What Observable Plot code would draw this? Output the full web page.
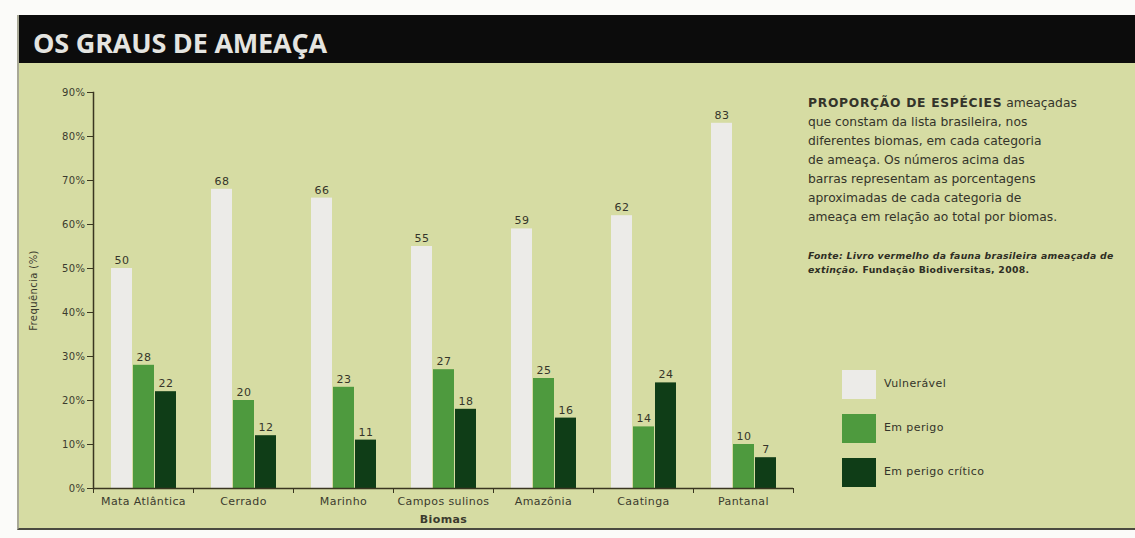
<!DOCTYPE html>
<html>
<head>
<meta charset="utf-8">
<script src="https://cdn.jsdelivr.net/npm/d3@7"></script>
<script src="https://cdn.jsdelivr.net/npm/@observablehq/plot@0.6"></script>
<style>
  html, body { margin: 0; padding: 0; background: #fbfbf9; width: 1135px; height: 538px; overflow: hidden; font-family: "DejaVu Sans", sans-serif; }
  #panel { position: absolute; left: 17px; top: 15px; width: 1118px; height: 515px; background: #d6dca3; border-left: 2px solid #a8a896; border-bottom: 2px solid #4a4a40; box-sizing: border-box; }
  #titlebar { position: absolute; left: 0; top: 0; width: 100%; height: 48px; background: #0c0c0c; }
  #title { position: absolute; left: 14px; top: 14px; line-height: 27px; color: #e4e4e0; font-family: "Open Sans", sans-serif; font-weight: 700; font-size: 27px; letter-spacing: -0.2px; white-space: nowrap; }
  #chart { position: absolute; left: 0px; top: 48px; }
  #desc { position: absolute; left: 789px; top: 79px; width: 340px; font-size: 12.3px; line-height: 19px; color: #34342a; white-space: nowrap; }
  #desc b { font-weight: 700; letter-spacing: 0.7px; }
  #source { position: absolute; left: 789px; top: 234px; font-size: 9.3px; letter-spacing: 0.3px; line-height: 14px; color: #2e2e24; font-weight: 700; white-space: nowrap; }
  #legend { position: absolute; left: 823px; top: 355px; }
  .item { position: absolute; left: 0; width: 260px; height: 30px; }
  .sw { position: absolute; left: 0; top: 0; width: 34px; height: 29px; }
  .lab { position: absolute; left: 42px; top: 7px; font-size: 11px; letter-spacing: 0.4px; color: #34342a; white-space: nowrap; }
</style>
</head>
<body>
<div id="panel">
  <div id="titlebar"><div id="title">OS GRAUS DE AMEAÇA</div></div>
  <div id="chart"></div>
  <div id="desc"><b>PROPORÇÃO DE ESPÉCIES</b> ameaçadas<br>que constam da lista brasileira, nos<br>diferentes biomas, em cada categoria<br>de ameaça. Os números acima das<br>barras representam as porcentagens<br>aproximadas de cada categoria de<br>ameaça em relação ao total por biomas.</div>
  <div id="source"><i>Fonte: Livro vermelho da fauna brasileira ameaçada de</i><br><i>extinção.</i> Fundação Biodiversitas, 2008.</div>
  <div id="legend"></div>
</div>
<script>
const biomes = ["Mata Atlântica", "Cerrado", "Marinho", "Campos sulinos", "Amazônia", "Caatinga", "Pantanal"];
const categories = ["Vulnerável", "Em perigo", "Em perigo crítico"];
const vulneravel = [50, 68, 66, 55, 59, 62, 83];
const emPerigo = [28, 20, 23, 27, 25, 14, 10];
const emPerigoCritico = [22, 12, 11, 18, 16, 24, 7];
const yTicks = [0, 10, 20, 30, 40, 50, 60, 70, 80, 90];
const colors = ["#ecebe8", "#4e9a3e", "#0f3d17"];

const series = [vulneravel, emPerigo, emPerigoCritico];
const data = biomes.flatMap((b, i) => categories.map((c, j) => ({biome: b, cat: c, value: series[j][i]})));

const ink = "#3b3b2e";
const axisInk = "#3a3620";
const chart = Plot.plot({
  width: 790,
  height: 467,
  marginLeft: 74,
  marginRight: 16,
  marginTop: 29,
  marginBottom: 42,
  style: {background: "transparent", fontFamily: "'DejaVu Sans', sans-serif", fontSize: "11px", letterSpacing: "0.4px", color: ink},
  fx: {domain: biomes, padding: 0, label: "Biomas"},
  x: {domain: categories, paddingInner: 0.05, paddingOuter: 0.7, axis: null},
  y: {domain: [0, 90]},
  color: {domain: categories, range: colors},
  marks: [
    Plot.barY(data, {fx: "biome", x: "cat", y: "value", fill: "cat"}),
    Plot.text(data, {fx: "biome", x: "cat", y: "value", text: d => String(d.value), dy: -8, fill: "#35352a", fontSize: 11}),
    Plot.ruleY([0], {stroke: axisInk, strokeWidth: 1.5}),
    Plot.frame({anchor: "left", facet: "super", stroke: axisInk, strokeWidth: 1.5}),
    Plot.axisY({ticks: yTicks, tickFormat: d => d + "%", tickSize: 6, tickPadding: 2, stroke: axisInk, fontSize: 10,
      label: "Frequência (%)", labelAnchor: "center", labelArrow: "none", labelOffset: 64}),
    Plot.axisFx({anchor: "bottom", tickFormat: () => "", tickSize: 5, dx: -50, label: null, stroke: axisInk}),
    Plot.axisFx({anchor: "bottom", ticks: [biomes[biomes.length - 1]], tickFormat: () => "", tickSize: 5, dx: 50, label: null, stroke: axisInk}),
    Plot.axisFx({anchor: "bottom", tickSize: 0, tickPadding: 9, label: "Biomas", labelAnchor: "center", labelArrow: "none", labelOffset: 34})
  ]
});
document.getElementById("chart").appendChild(chart);
d3.select(chart).selectAll('g[aria-label="fx-axis label"] text').attr("font-weight", "bold");

const legend = d3.select("#legend");
categories.forEach((c, i) => {
  const it = legend.append("div").attr("class", "item").style("top", (i * 44) + "px");
  it.append("div").attr("class", "sw").style("background", colors[i]);
  it.append("div").attr("class", "lab").text(c);
});
</script>
</body>
</html>
